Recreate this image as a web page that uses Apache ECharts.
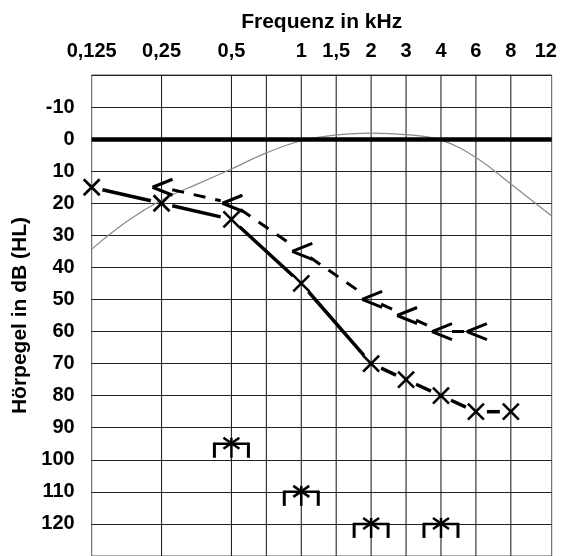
<!DOCTYPE html>
<html>
<head>
<meta charset="utf-8">
<script src="https://cdn.jsdelivr.net/npm/echarts@6/dist/echarts.min.js"></script>
<style>
html,body{margin:0;padding:0;background:#fff;}
#chart{width:561px;height:556px;}
</style>
</head>
<body>
<div id="chart"></div>
<script>
// ---- data ----
const freqLabels = ['0,125', '0,25', '0,5', '1', '1,5', '2', '3', '4', '6', '8', '12'];
const labelFreqs = [0.125, 0.25, 0.5, 1, 1.5, 2, 3, 4, 6, 8, 12];
const gridFreqs = [0.25, 0.5, 0.75, 1, 1.5, 2, 3, 4, 6, 8];

const airFreqs = [0.125, 0.25, 0.5, 1, 2, 3, 4, 6, 8];
const airDb = [15, 20, 25, 45, 70, 75, 80, 85, 85];

const boneFreqs = [0.25, 0.5, 1, 2, 3, 4, 6];
const boneDb = [15, 20, 35, 50, 55, 60, 60];

const bracketFreqs = [0.5, 1, 2, 4];
const bracketDb = [95, 110, 120, 120];

const curveFreqs = [0.125, 0.177, 0.25, 0.354, 0.5, 0.707, 1, 1.414, 2, 2.828, 4, 5.657, 8, 12];
const curveDb = [34.3, 25.7, 19, 14.1, 9.3, 4.3, 0.5, -1.3, -1.9, -1.4, 0.3, 5.7, 14, 24];

const dbMin = -20, dbMax = 130, dbStep = 10;

// ---- helpers ----
const pos = f => 2 * Math.log2(f / 0.125);          // half-octave units
const tickPos = f => Math.round(pos(f));              // audiometric grid position
const FONT = "'Liberation Sans', Arial, sans-serif";

function segSeries(freqs, dbs, width, dash, gap) {
  return {
    type: 'custom', coordinateSystem: 'cartesian2d', z: 5,
    data: freqs.slice(0, -1).map((f, i) => [tickPos(f), dbs[i], tickPos(freqs[i + 1]), dbs[i + 1]]),
    encode: { x: [0, 2], y: [1, 3] },
    renderItem: function (params, api) {
      const a = api.coord([api.value(0), api.value(1)]);
      const b = api.coord([api.value(2), api.value(3)]);
      const dx = b[0] - a[0], dy = b[1] - a[1];
      const L = Math.hypot(dx, dy);
      const ux = dx / L, uy = dy / L;
      return {
        type: 'line',
        shape: { x1: a[0] + ux * gap, y1: a[1] + uy * gap, x2: b[0] - ux * gap, y2: b[1] - uy * gap },
        style: { stroke: '#000', lineWidth: width, lineDash: dash, lineCap: 'butt' }
      };
    }
  };
}

function markerSeries(freqs, dbs, drawFn) {
  return {
    type: 'custom', coordinateSystem: 'cartesian2d', z: 6, clip: false,
    data: freqs.map((f, i) => [tickPos(f), dbs[i]]),
    encode: { x: 0, y: 1 },
    renderItem: function (params, api) {
      const p = api.coord([api.value(0), api.value(1)]);
      return { type: 'group', children: drawFn(p[0], p[1]) };
    }
  };
}

function ln(x1, y1, x2, y2, w) {
  return { type: 'line', shape: { x1, y1, x2, y2 }, style: { stroke: '#000', lineWidth: w, lineCap: 'butt' } };
}

const drawX = (x, y) => [ln(x - 8, y - 8, x + 8, y + 8, 2.6), ln(x - 8, y + 8, x + 8, y - 8, 2.6)];
const drawLt = (x, y) => [ln(x - 9, y, x + 11, y - 8, 3), ln(x - 9, y, x + 11, y + 8, 3)];
const drawBracket = (x, y) => [
  ln(x - 18, y, x + 18, y, 2.5),
  ln(x - 17, y - 1, x - 17, y + 14, 3),
  ln(x + 17, y - 1, x + 17, y + 14, 3),
  ln(x, y - 6, x, y + 14, 2.5),
  ln(x - 8, y - 6, x + 8, y + 5, 2.5),
  ln(x - 8, y + 5, x + 8, y - 6, 2.5)
];

const chart = echarts.init(document.getElementById('chart'), null, { renderer: 'canvas' });

const option = {
  animation: false,
  backgroundColor: '#fff',
  grid: {
    left: 91.7, top: 75, width: 460, height: 485.4,
    show: true, borderColor: '#555', borderWidth: 1, backgroundColor: 'transparent'
  },
  xAxis: {
    type: 'value', position: 'top',
    min: 0, max: pos(12),
    name: 'Frequenz in kHz', nameLocation: 'middle', nameGap: 42,
    nameTextStyle: { fontFamily: FONT, fontWeight: 'bold', fontSize: 21, color: '#000' },
    axisLine: { show: false }, axisTick: { show: false }, splitLine: { show: false },
    axisLabel: {
      customValues: labelFreqs.map(tickPos),
      margin: 14,
      fontFamily: FONT, fontWeight: 'bold', fontSize: 20, color: '#000',
      formatter: function (v) {
        const i = labelFreqs.findIndex(f => tickPos(f) === v);
        return i >= 0 ? freqLabels[i] : '';
      }
    }
  },
  yAxis: {
    type: 'value', inverse: true,
    min: dbMin, max: dbMax, interval: dbStep,
    name: 'Hörpegel in dB (HL)', nameLocation: 'middle', nameGap: 60, nameRotate: 90,
    nameTextStyle: { fontFamily: FONT, fontWeight: 'bold', fontSize: 21, color: '#000' },
    axisLine: { show: false }, axisTick: { show: false },
    splitLine: { show: true, lineStyle: { color: '#222', width: 1 } },
    axisLabel: {
      margin: 17,
      fontFamily: FONT, fontWeight: 'bold', fontSize: 20, color: '#000',
      formatter: v => (v === dbMin || v === dbMax) ? '' : String(v)
    }
  },
  series: [
    {
      // vertical grid lines at audiometric frequencies
      type: 'custom', coordinateSystem: 'cartesian2d', z: 1, silent: true,
      data: gridFreqs.map(f => [tickPos(f), dbMin]),
      encode: { x: 0, y: 1 },
      renderItem: function (params, api) {
        const t = api.coord([api.value(0), dbMin]);
        const b = api.coord([api.value(0), dbMax]);
        return { type: 'line', shape: { x1: t[0], y1: t[1], x2: b[0], y2: b[1] }, style: { stroke: '#111', lineWidth: 1 } };
      }
    },
    {
      // gray reference curve
      type: 'line', z: 3, smooth: 0.4, symbol: 'none',
      data: curveFreqs.map((f, i) => [pos(f), curveDb[i]]),
      lineStyle: { color: '#8a8a8a', width: 1.2 },
      markLine: {
        silent: true, symbol: 'none', label: { show: false },
        lineStyle: { color: '#000', width: 4.5, type: 'solid' },
        data: [{ yAxis: 0 }]
      }
    },
    segSeries(airFreqs, airDb, 3.5, null, 11),
    segSeries(boneFreqs, boneDb, 3, [12, 10], 11),
    markerSeries(airFreqs, airDb, drawX),
    markerSeries(boneFreqs, boneDb, drawLt),
    markerSeries(bracketFreqs, bracketDb, drawBracket)
  ]
};
chart.setOption(option);
</script>
</body>
</html>
